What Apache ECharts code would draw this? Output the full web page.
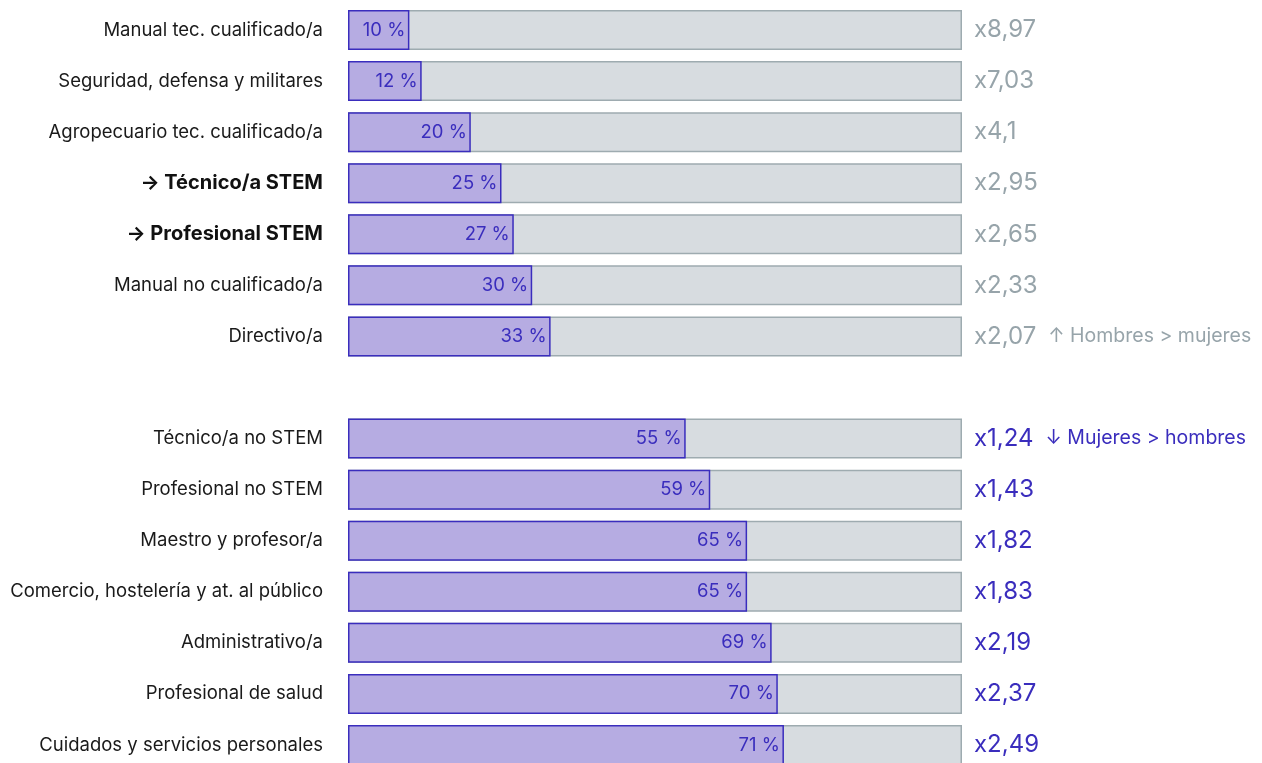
<!DOCTYPE html>
<html>
<head>
<meta charset="utf-8" />
<script src="https://cdn.jsdelivr.net/npm/echarts@6/dist/echarts.min.js"></script>
<style>
  html, body { margin: 0; padding: 0; background: #fff; overflow: hidden; }
  #chart { width: 1262px; height: 775px; }
</style>
</head>
<body>
<div id="chart"></div>
<script>
// rows top to bottom, '' is the spacer between the two groups
var categories = [
  'Manual tec. cualificado/a', 'Seguridad, defensa y militares', 'Agropecuario tec. cualificado/a',
  '→ Técnico/a STEM', '→ Profesional STEM', 'Manual no cualificado/a', 'Directivo/a',
  '',
  'Técnico/a no STEM', 'Profesional no STEM', 'Maestro y profesor/a',
  'Comercio, hostelería y at. al público', 'Administrativo/a', 'Profesional de salud',
  'Cuidados y servicios personales'
];
var womenShare = [10, 12, 20, 25, 27, 30, 33, '-', 55, 59, 65, 65, 69, 70, 71];
var totals = [100, 100, 100, 100, 100, 100, 100, '-', 100, 100, 100, 100, 100, 100, 100];
var ratios = ['x8,97', 'x7,03', 'x4,1', 'x2,95', 'x2,65', 'x2,33', 'x2,07', '',
  'x1,24', 'x1,43', 'x1,82', 'x1,83', 'x2,19', 'x2,37', 'x2,49'];
var notes = ['', '', '', '', '', '', '↑ Hombres > mujeres', '',
  '↓ Mujeres > hombres', '', '', '', '', '', ''];
var boldRows = ['→ Técnico/a STEM', '→ Profesional STEM'];

var font = 'Inter, "Noto Sans", sans-serif';
var grayText = '#97a4aa';
var blue = '#3a2dbd';

var chart = echarts.init(document.getElementById('chart'));
chart.setOption({
  animation: false,
  textStyle: { fontFamily: font },
  grid: { left: 348, width: 614, top: 4.5, height: 766 },
  xAxis: { type: 'value', min: 0, max: 100, show: false },
  yAxis: [{
    type: 'category',
    data: categories,
    inverse: true,
    axisLine: { show: false },
    axisTick: { show: false },
    axisLabel: {
      margin: 25,
      fontSize: 18.5,
      color: '#1a1a1a',
      fontFamily: font,
      formatter: function (v) {
        return boldRows.indexOf(v) >= 0 ? '{b|' + v + '}' : v;
      },
      rich: { b: { fontWeight: 'bold', fontSize: 20, color: '#111', fontFamily: font } }
    }
  }, {
    type: 'category',
    data: categories,
    inverse: true,
    position: 'right',
    axisLine: { show: false },
    axisTick: { show: false },
    axisLabel: {
      margin: 12,
      align: 'left',
      fontFamily: font,
      formatter: function (v, i) {
        if (!ratios[i]) return '';
        var style = i < 7 ? 'g' : 'b';
        var s = '{' + style + '|' + ratios[i] + '}';
        if (notes[i]) s += '{' + style + 'n|' + notes[i] + '}';
        return s;
      },
      rich: {
        g: { fontSize: 24, color: grayText, fontFamily: font },
        b: { fontSize: 24, color: blue, fontFamily: font },
        gn: { fontSize: 19.5, color: grayText, fontFamily: font, padding: [0, 0, 0, 12] },
        bn: { fontSize: 19.5, color: blue, fontFamily: font, padding: [0, 0, 0, 12] }
      }
    }
  }],
  series: [{
    type: 'bar',
    data: totals,
    barWidth: 40,
    silent: true,
    itemStyle: { color: '#d7dce0', borderColor: '#9eabb0', borderWidth: 1.5 },
    z: 1
  }, {
    type: 'bar',
    data: womenShare,
    barWidth: 40,
    barGap: '-100%',
    itemStyle: { color: '#b6ace2', borderColor: blue, borderWidth: 1.5 },
    label: {
      show: true,
      position: 'insideRight',
      distance: 4,
      fontSize: 18.5,
      color: blue,
      fontFamily: font,
      formatter: function (p) { return p.value + ' %'; }
    },
    z: 2
  }]
});
</script>
</body>
</html>
